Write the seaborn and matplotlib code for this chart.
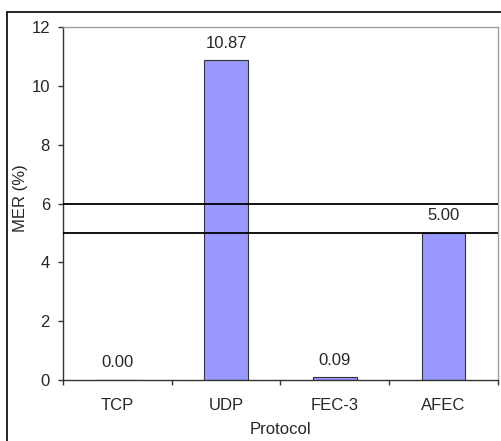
import matplotlib
matplotlib.use("Agg")
import matplotlib.pyplot as plt
import seaborn as sns
import pandas as pd
from matplotlib.lines import Line2D

protocols = ["TCP", "UDP", "FEC-3", "AFEC"]
mer = [0.00, 10.87, 0.09, 5.00]
ref_lines = [5, 6]
yticks = [0, 2, 4, 6, 8, 10, 12]

sns.set_style("white")
plt.rcParams['font.family'] = ['Liberation Sans', 'DejaVu Sans']

df = pd.DataFrame({"Protocol": protocols, "MER": mer})

FS = 12
fig = plt.figure(figsize=(5.02, 4.41), dpi=100)
ax = fig.add_axes([63/502, 61/441, 435/502, 353/441])

sns.barplot(data=df, x="Protocol", y="MER", color="#9999FF", width=0.4,
            edgecolor="#333333", linewidth=0.8, saturation=1, ax=ax)

for y in ref_lines:
    ax.axhline(y, color="black", lw=1.3, zorder=5)

for i, v in enumerate(mer):
    ax.annotate(f"{v:.2f}", (i, v), xytext=(0, 7), textcoords="offset points",
                ha="center", va="bottom", fontsize=FS)

ax.set_xlim(-0.5, 3.5)
ax.set_ylim(0, 12)
ax.set_yticks(yticks)
ax.set_xticks(range(len(protocols)))
ax.set_xticklabels(protocols)
ax.set_xticks([-0.5, 0.5, 1.5, 2.5, 3.5], minor=True)
ax.tick_params(axis="x", which="major", length=0, labelsize=FS, pad=13)
ax.tick_params(axis="x", which="minor", length=3.6, width=1, color="#333333", direction="out", bottom=True)
ax.tick_params(axis="y", length=3.6, width=1, color="#333333", direction="out", left=True, labelsize=FS, pad=5.8)
ax.set_xlabel("Protocol", fontsize=FS)
ax.set_ylabel("MER (%)", fontsize=FS)
ax.xaxis.set_label_coords(0.5, (380 - 422) / 353)
ax.xaxis.label.set_va("top")
ax.yaxis.set_label_coords((20 - 63) / 435, (380 - 198) / 353)
ax.yaxis.label.set_va("center")
ax.yaxis.label.set_ha("center")

for s in ["top", "right"]:
    ax.spines[s].set_color("#a0a0a0")
    ax.spines[s].set_linewidth(1)
for s in ["left", "bottom"]:
    ax.spines[s].set_color("#333333")
    ax.spines[s].set_linewidth(1)

# outer chart border
fig.add_artist(Line2D([7.5/502, 7.5/502], [0, (441-12)/441], color="black", lw=1.2, transform=fig.transFigure))
fig.add_artist(Line2D([7.5/502, 1], [(441-12)/441, (441-12)/441], color="black", lw=1.2, transform=fig.transFigure))

fig.savefig("out.png", dpi=100)
